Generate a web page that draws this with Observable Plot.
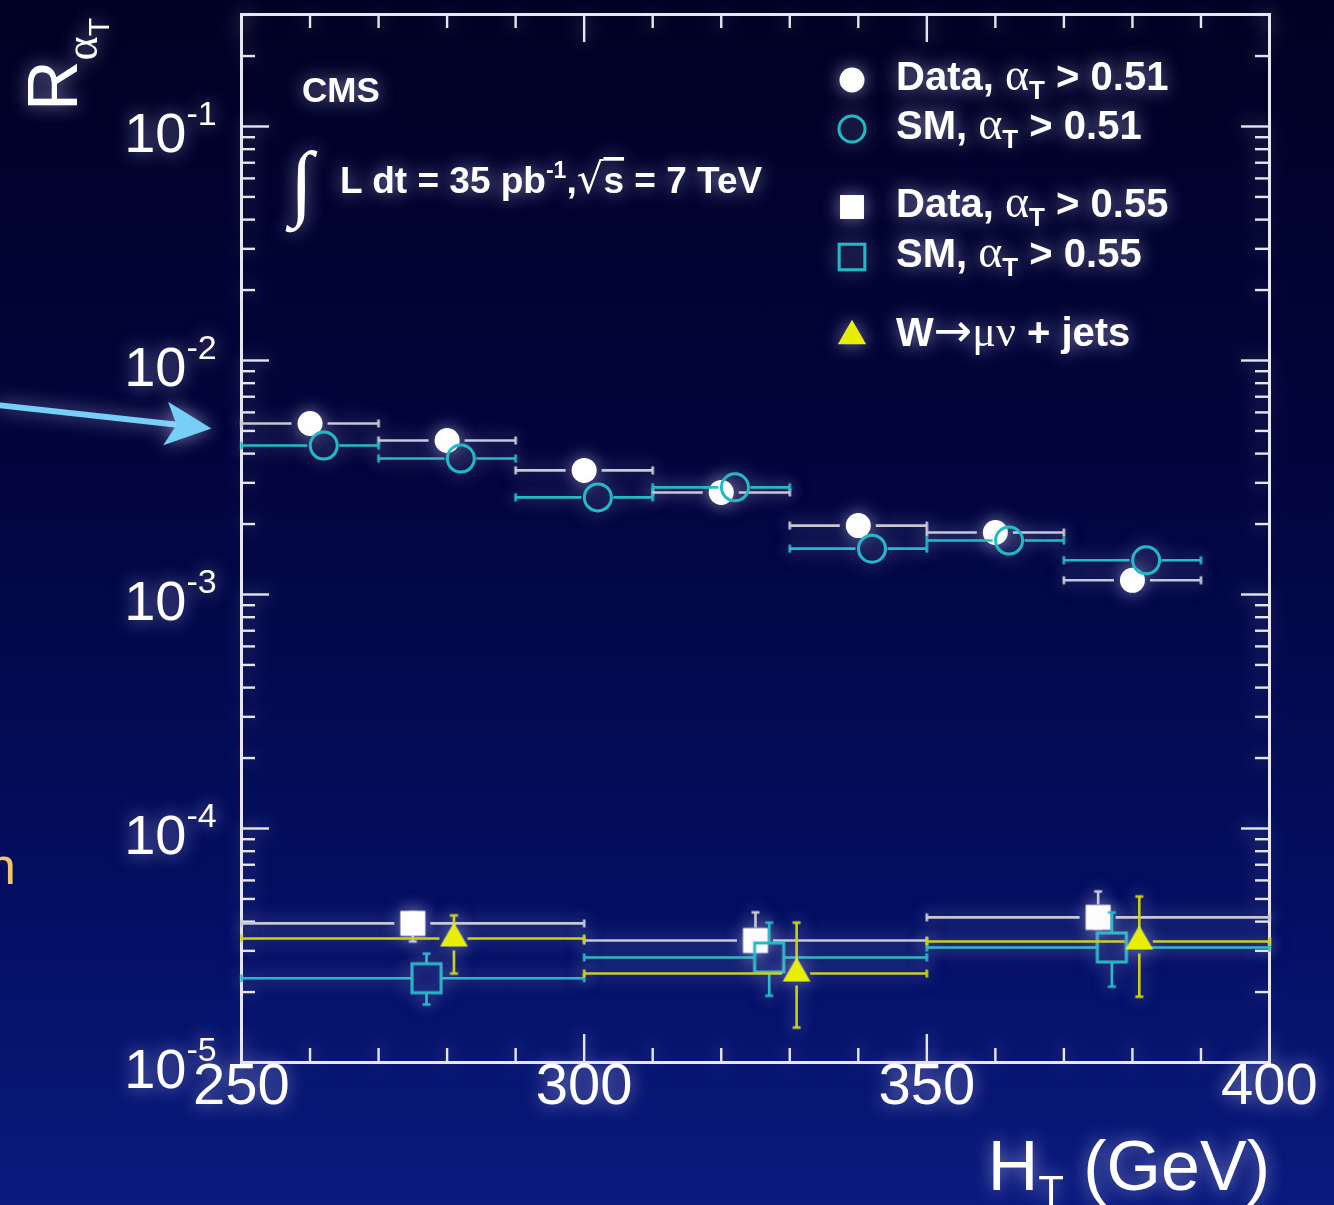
<!DOCTYPE html>
<html>
<head>
<meta charset="utf-8">
<script src="https://cdn.jsdelivr.net/npm/d3@7"></script>
<script src="https://cdn.jsdelivr.net/npm/@observablehq/plot@0.6"></script>
<style>
  html, body { margin: 0; padding: 0; }
  body {
    width: 1334px; height: 1205px; overflow: hidden;
    background: linear-gradient(to bottom, #010124 0%, #02053e 40%, #040f62 75%, #0a1a7e 100%);
  }
  #chart { position: relative; width: 1334px; height: 1205px; }
</style>
</head>
<body>
<div id="chart"></div>
<script>
// ---- R_alphaT vs H_T ----

// alpha_T > 0.51 selection, 20 GeV wide H_T bins
const binsFine = [[250, 270], [270, 290], [290, 310], [310, 330], [330, 350], [350, 370], [370, 390]];
const dataFine = [5.38e-3, 4.55e-3, 3.39e-3, 2.73e-3, 1.97e-3, 1.84e-3, 1.15e-3];
const smFine   = [4.33e-3, 3.81e-3, 2.60e-3, 2.87e-3, 1.57e-3, 1.70e-3, 1.40e-3];

// alpha_T > 0.55 selection, 50 GeV wide H_T bins
const binsCoarse   = [[250, 300], [300, 350], [350, 400]];
const dataCoarse   = [3.93e-5, 3.32e-5, 4.17e-5];
const dataCoarseLo = [3.29e-5, 3.01e-5, 3.74e-5];
const dataCoarseHi = [4.38e-5, 4.38e-5, 5.38e-5];
const smCoarse     = [2.29e-5, 2.81e-5, 3.10e-5];
const smCoarseLo   = [1.77e-5, 1.93e-5, 2.11e-5];
const smCoarseHi   = [2.92e-5, 3.96e-5, 4.38e-5];

// W -> mu nu + jets control sample
const wCoarse   = [3.39e-5, 2.40e-5, 3.29e-5];
const wCoarseLo = [2.40e-5, 1.41e-5, 1.91e-5];
const wCoarseHi = [4.25e-5, 3.96e-5, 5.12e-5];

// marker displacement inside each bin (GeV) so the points do not sit on top of each other
const shiftData = 0, shiftSM = 2, shiftW = 6;

// axis ticks and labels
const xTickLabels = ["250", "300", "350", "400"];
const yTickExponents = ["-5", "-4", "-3", "-2", "-1"];

// slide pointer towards the first H_T bin (data coordinates)
const pointer = [{x1: 214.8, y1: 6.43e-3, x2: 245.6, y2: 5.12e-3}];

// ---- layout ----
const W = 1334, H = 1205;
const margin = {top: 14, right: 65, bottom: 143, left: 241};
const xDomain = [250, 400];
const yDomain = [1e-5, 0.301];
const frameW = W - margin.left - margin.right;
const frameH = H - margin.top - margin.bottom;
const pxPerGeV = frameW / (xDomain[1] - xDomain[0]);
const pxPerDecade = frameH / Math.log10(yDomain[1] / yDomain[0]);

const WHITE = "#ffffff";
const GREY = "#c9c9d3";
const CYAN = "#1ebcc6";
const YELLOW = "#e8f000";
const YELLOW_BAR = "#cdd200";
const AXIS = "#e6e6ee";

// ---- helpers building error-bar pieces from the value arrays ----
function rows(bins, values, shift, lo, hi) {
  return bins.map(([a, b], i) => ({
    x1: a, x2: b, x: (a + b) / 2 + shift, y: values[i],
    lo: lo ? lo[i] : null, hi: hi ? hi[i] : null
  }));
}
// horizontal bars interrupted around the marker
function hSegs(rs, gapPx) {
  const g = gapPx / pxPerGeV;
  return rs.flatMap(r => [{x1: r.x1, x2: r.x - g, y: r.y}, {x1: r.x + g, x2: r.x2, y: r.y}]);
}
// vertical bars interrupted around the marker
function vSegs(rs, gapPx) {
  const f = Math.pow(10, gapPx / pxPerDecade);
  const out = [];
  for (const r of rs) {
    if (r.lo != null && r.lo < r.y / f) out.push({x: r.x, y1: r.lo, y2: r.y / f});
    if (r.hi != null && r.hi > r.y * f) out.push({x: r.x, y1: r.y * f, y2: r.hi});
  }
  return out;
}
const hCaps = rs => rs.flatMap(r => [{x: r.x1, y: r.y}, {x: r.x2, y: r.y}]);
const vCaps = rs => rs.flatMap(r => [
  r.lo != null ? {x: r.x, y: r.lo} : null,
  r.hi != null ? {x: r.x, y: r.hi} : null
]).filter(Boolean);

// small line symbols for error-bar end caps
const vTick = {draw(ctx, size) { const r = Math.sqrt(size / Math.PI); ctx.moveTo(0, -r); ctx.lineTo(0, r); }};
const hTick = {draw(ctx, size) { const r = Math.sqrt(size / Math.PI); ctx.moveTo(-r, 0); ctx.lineTo(r, 0); }};
// filled arrow head, tip at the origin, pointing up
const headShape = {draw(ctx) { ctx.moveTo(0, 0); ctx.lineTo(22, 46); ctx.lineTo(0, 35); ctx.lineTo(-22, 46); ctx.closePath(); }};

function series(rs, {color, bar, hGap, vGap, symbol, r, filled, sw = 3}) {
  return [
    Plot.ruleY(hSegs(rs, hGap), {x1: "x1", x2: "x2", y: "y", stroke: bar, strokeWidth: 2.6}),
    Plot.dot(hCaps(rs), {x: "x", y: "y", symbol: vTick, r: 4, stroke: bar, strokeWidth: 2.6, fill: "none"}),
    Plot.ruleX(vSegs(rs, vGap), {x: "x", y1: "y1", y2: "y2", stroke: bar, strokeWidth: 2.6}),
    Plot.dot(vCaps(rs), {x: "x", y: "y", symbol: hTick, r: 4, stroke: bar, strokeWidth: 2.6, fill: "none"}),
    Plot.dot(rs, {
      x: "x", y: "y", symbol, r,
      fill: filled ? color : "none",
      stroke: filled ? "none" : color,
      strokeWidth: sw
    })
  ];
}

const fineData = rows(binsFine, dataFine, shiftData);
const fineSM = rows(binsFine, smFine, shiftSM);
const coarseData = rows(binsCoarse, dataCoarse, shiftData, dataCoarseLo, dataCoarseHi);
const coarseSM = rows(binsCoarse, smCoarse, shiftSM, smCoarseLo, smCoarseHi);
const coarseW = rows(binsCoarse, wCoarse, shiftW, wCoarseLo, wCoarseHi);

// ---- tick positions ----
const xMajor = xTickLabels.map(Number);
const xMinor = d3.range(260, 400, 10).filter(v => v % 50 !== 0);
const yMajor = yTickExponents.map(e => Math.pow(10, +e));
const yMinor = [];
for (const e of yTickExponents.map(Number)) {
  for (let m = 2; m <= 9; m++) {
    const v = m * Math.pow(10, e);
    if (v <= yDomain[1]) yMinor.push(v);
  }
}

// pointer head orientation in screen space
const p = pointer[0];
const headAngle = Math.atan2((Math.log10(p.y1) - Math.log10(p.y2)) * pxPerDecade, (p.x2 - p.x1) * pxPerGeV) * 180 / Math.PI;

const chart = Plot.plot({
  width: W,
  height: H,
  marginTop: margin.top,
  marginRight: margin.right,
  marginBottom: margin.bottom,
  marginLeft: margin.left,
  style: {background: "transparent", color: WHITE, fontFamily: "'Liberation Sans', Arial, sans-serif"},
  x: {domain: xDomain, axis: null},
  y: {type: "log", domain: yDomain, axis: null},
  marks: [
    // inward ticks on all four sides
    Plot.tickY(yMajor, {y: d => d, insetRight: frameW - 28, stroke: AXIS, strokeWidth: 2.4}),
    Plot.tickY(yMinor, {y: d => d, insetRight: frameW - 14, stroke: AXIS, strokeWidth: 2.4}),
    Plot.tickY(yMajor, {y: d => d, insetLeft: frameW - 28, stroke: AXIS, strokeWidth: 2.4}),
    Plot.tickY(yMinor, {y: d => d, insetLeft: frameW - 14, stroke: AXIS, strokeWidth: 2.4}),
    Plot.tickX(xMajor, {x: d => d, insetTop: frameH - 28, stroke: AXIS, strokeWidth: 2.4}),
    Plot.tickX(xMinor, {x: d => d, insetTop: frameH - 14, stroke: AXIS, strokeWidth: 2.4}),
    Plot.tickX(xMajor, {x: d => d, insetBottom: frameH - 28, stroke: AXIS, strokeWidth: 2.4}),
    Plot.tickX(xMinor, {x: d => d, insetBottom: frameH - 14, stroke: AXIS, strokeWidth: 2.4}),
    Plot.frame({stroke: AXIS, strokeWidth: 3}),

    // tick labels: 10 with a raised exponent, H_T values below
    Plot.text(yMajor, {y: d => d, text: () => "10", frameAnchor: "left", textAnchor: "end", dx: -55, dy: 8, fontSize: 56, fill: WHITE}),
    Plot.text(yMajor, {y: d => d, text: (d, i) => yTickExponents[i], frameAnchor: "left", textAnchor: "start", dx: -55, dy: -12, fontSize: 34, fill: WHITE}),
    Plot.text(xMajor, {x: d => d, text: (d, i) => xTickLabels[i], frameAnchor: "bottom", dy: 41, fontSize: 58, fill: WHITE}),

    // alpha_T > 0.51
    ...series(fineData, {color: WHITE, bar: GREY, hGap: 18, vGap: 12, symbol: "circle", r: 12.5, filled: true}),
    ...series(fineSM, {color: CYAN, bar: CYAN, hGap: 16, vGap: 14, symbol: "circle", r: 13.5, filled: false}),

    // alpha_T > 0.55
    ...series(coarseData, {color: WHITE, bar: GREY, hGap: 18, vGap: 12.5, symbol: "square", r: 14.1, filled: true}),
    ...series(coarseSM, {color: CYAN, bar: CYAN, hGap: 15, vGap: 14.5, symbol: "square", r: 16.4, filled: false}),
    ...series(coarseW, {color: YELLOW, bar: YELLOW_BAR, hGap: 14, vGap: 12.5, symbol: "triangle", r: 10.3, filled: true}),

    // pointer
    Plot.arrow(pointer, {x1: "x1", y1: "y1", x2: "x2", y2: "y2", stroke: "#74cff6", strokeWidth: 6, headLength: 0, insetEnd: 34, ariaLabel: "pointer"}),
    Plot.dot(pointer, {x: "x2", y: "y2", symbol: headShape, r: 10, fill: "#74cff6", stroke: "none", rotate: 90 + headAngle, ariaLabel: "pointer"})
  ]
});

document.getElementById("chart").appendChild(chart);

// ---- soft halo behind the plotted elements ----
const svg = d3.select(chart);
const defs = svg.insert("defs", ":first-child");
const halo = defs.append("filter").attr("id", "halo")
  .attr("filterUnits", "userSpaceOnUse").attr("x", 0).attr("y", 0).attr("width", W).attr("height", H);
halo.append("feGaussianBlur").attr("in", "SourceAlpha").attr("stdDeviation", 9).attr("result", "blur");
halo.append("feFlood").attr("flood-color", "#d4d4ff").attr("flood-opacity", 0.6);
halo.append("feComposite").attr("in2", "blur").attr("operator", "in").attr("result", "glow");
const merge = halo.append("feMerge");
merge.append("feMergeNode").attr("in", "glow");
merge.append("feMergeNode").attr("in", "SourceGraphic");

svg.selectAll(":scope > g").filter(function () { return this.getAttribute("aria-label") !== "pointer"; })
  .attr("filter", "url(#halo)");

// ---- labels, legend and annotations ----
const ann = svg.append("g").attr("filter", "url(#halo)").attr("fill", WHITE)
  .attr("text-anchor", "start")
  .attr("font-family", "'Liberation Sans', Arial, sans-serif");

// y-axis title R_{alpha_T}
const yTitle = ann.append("text").attr("transform", "translate(77,111) rotate(-90)").attr("font-size", 70);
yTitle.append("tspan").text("R");
yTitle.append("tspan").attr("dy", 20).attr("font-size", 46).attr("font-family", "'Liberation Serif', serif").text("α");
yTitle.append("tspan").attr("dy", 12).attr("font-size", 30).text("T");

// x-axis title H_T (GeV)
const xTitle = ann.append("text").attr("x", 1270).attr("y", 1190).attr("text-anchor", "end").attr("font-size", 70);
xTitle.append("tspan").text("H");
xTitle.append("tspan").attr("dy", 15).attr("font-size", 42).text("T");
xTitle.append("tspan").attr("dy", -15).text(" (GeV)");

// experiment label and luminosity
ann.append("text").attr("x", 302).attr("y", 102).attr("font-size", 35).attr("font-weight", "bold").text("CMS");
ann.append("text").attr("x", 290).attr("y", 210).attr("font-size", 84)
  .attr("font-family", "'Liberation Serif', serif").text("∫");
const lumi = ann.append("text").attr("x", 340).attr("y", 193).attr("font-size", 37).attr("font-weight", "bold");
lumi.append("tspan").text("L dt = 35 pb");
lumi.append("tspan").attr("dy", -15).attr("font-size", 23).text("-1");
lumi.append("tspan").attr("dy", 15).text(",");
lumi.append("tspan").attr("font-weight", "normal").attr("font-family", "'DejaVu Sans', sans-serif").attr("font-size", 42).text("√");
lumi.append("tspan").attr("text-decoration", "overline").text("s");
lumi.append("tspan").text(" = 7 TeV");

// legend
const legendRows = [
  {y: 80, text: "Data, ", sym: "circle", fill: WHITE, stroke: "none", r: 12.5, sub: true, cut: " > 0.51"},
  {y: 129, text: "SM, ", sym: "circle", fill: "none", stroke: CYAN, r: 13, sub: true, cut: " > 0.51"},
  {y: 207, text: "Data, ", sym: "square", fill: WHITE, stroke: "none", r: 13.5, sub: true, cut: " > 0.55"},
  {y: 257, text: "SM, ", sym: "square", fill: "none", stroke: CYAN, r: 14.5, sub: true, cut: " > 0.55"},
  {y: 336, text: "W", sym: "triangle", fill: YELLOW, stroke: "none", r: 10.5, sub: false}
];
const symbolTypes = {circle: d3.symbolCircle, square: d3.symbolSquare, triangle: d3.symbolTriangle};
const legend = ann.append("g");
for (const row of legendRows) {
  legend.append("path")
    .attr("transform", `translate(852,${row.y})`)
    .attr("d", d3.symbol(symbolTypes[row.sym], row.r * row.r * Math.PI)())
    .attr("fill", row.fill).attr("stroke", row.stroke).attr("stroke-width", 3);
  const t = legend.append("text").attr("x", 896).attr("y", row.y + 10)
    .attr("font-size", 40).attr("font-weight", "bold");
  t.append("tspan").text(row.text);
  if (row.sub) {
    t.append("tspan").attr("font-family", "'Liberation Serif', serif").attr("font-weight", "normal").attr("font-size", 46).text("α");
    t.append("tspan").attr("dy", 9).attr("font-size", 26).text("T");
    t.append("tspan").attr("dy", -9).text(row.cut);
  } else {
    t.append("tspan").attr("font-family", "'DejaVu Sans', sans-serif").attr("font-weight", "normal").attr("font-size", 46).text("→");
    t.append("tspan").attr("font-family", "'Liberation Serif', serif").attr("font-weight", "normal").attr("font-size", 44).text("μν");
    t.append("tspan").text(" + jets");
  }
}

// slide text running in from the left edge
svg.append("text").attr("x", 16).attr("y", 884).attr("text-anchor", "end")
  .attr("font-size", 52).attr("font-family", "'Liberation Sans', Arial, sans-serif")
  .attr("fill", "#f6c46a").text("n");
</script>
</body>
</html>
